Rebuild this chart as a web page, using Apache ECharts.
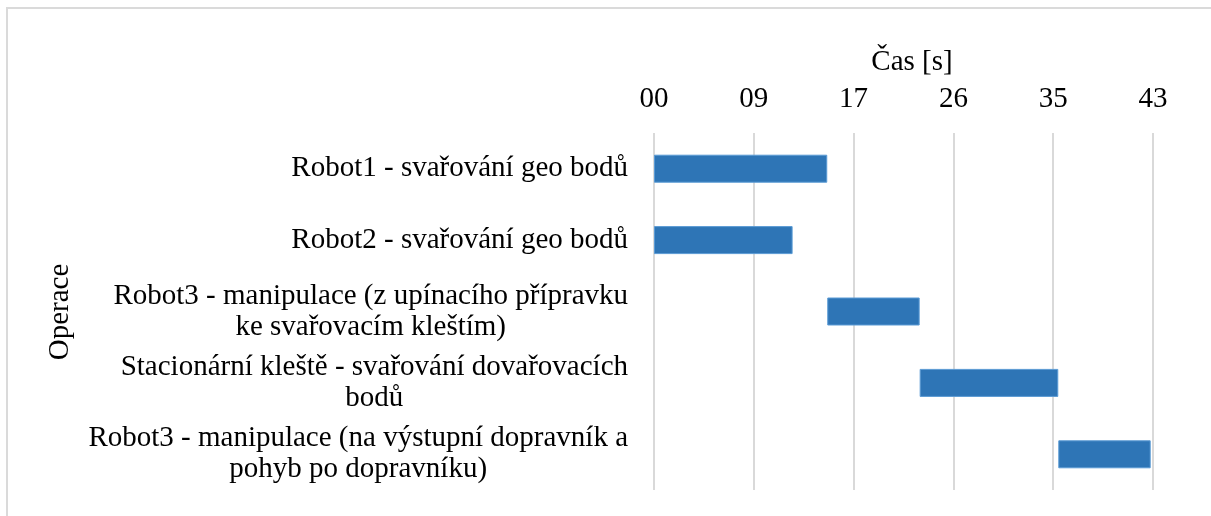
<!DOCTYPE html>
<html>
<head>
<meta charset="utf-8">
<script src="https://cdn.jsdelivr.net/npm/echarts@6/dist/echarts.min.js"></script>
<style>
  html, body { margin: 0; padding: 0; background: #fff; overflow: hidden; width: 1211px; height: 516px; }
  #frame {
    position: absolute; left: 6px; top: 7px; width: 1205px; height: 509px;
    border-top: 2px solid #dadada; border-left: 2px solid #dadada; box-sizing: border-box;
  }
  #chart { position: absolute; left: 0; top: 0; width: 1211px; height: 516px; }
</style>
</head>
<body>
<div id="frame"></div>
<div id="chart"></div>
<script>
// Operations (top to bottom), wrapped like the original labels
const operations = [
  'Robot1 - svařování geo bodů',
  'Robot2 - svařování geo bodů',
  'Robot3 - manipulace (z upínacího přípravku\nke svařovacím kleštím)',
  'Stacionární kleště - svařování dovařovacích\nbodů',
  'Robot3 - manipulace (na výstupní dopravník a\npohyb po dopravníku)'
]
// start time and duration in seconds
const startTimes = [0, 0, 15, 23, 35]
const durations = [15, 12, 8, 12, 8]
// axis runs in steps of 0.0001 day = 8.64 s
const tickStep = 8.64
const tickLabels = ['00', '09', '17', '26', '35', '43']

const fontFamily = '"Liberation Serif", "DejaVu Serif", serif'
const fontSize = 29

const chart = echarts.init(document.getElementById('chart'))

const option = {
  animation: false,
  textStyle: { fontFamily: fontFamily },
  grid: { left: 654, right: 58, top: 133, bottom: 26 },
  graphic: [
    {
      // x axis title
      type: 'text',
      x: 912,
      y: 62,
      style: {
        text: 'Čas [s]',
        font: fontSize + 'px ' + fontFamily,
        fill: '#000',
        align: 'center',
        verticalAlign: 'middle'
      }
    },
    {
      // y axis title
      type: 'text',
      x: 60,
      y: 312,
      rotation: Math.PI / 2,
      style: {
        text: 'Operace',
        font: fontSize + 'px ' + fontFamily,
        fill: '#000',
        align: 'center',
        verticalAlign: 'middle'
      }
    }
  ],
  xAxis: {
    type: 'value',
    position: 'top',
    min: 0,
    max: tickStep * (tickLabels.length - 1),
    interval: tickStep,
    axisLine: { show: false },
    axisTick: { show: false },
    axisLabel: {
      fontSize: fontSize,
      color: '#000',
      margin: 19,
      fontFamily: fontFamily,
      formatter: (v) => tickLabels[Math.round(v / tickStep)]
    },
    splitLine: { lineStyle: { color: '#d9d9d9', width: 2 } }
  },
  yAxis: {
    type: 'category',
    inverse: true,
    data: operations,
    axisLine: { show: false },
    axisTick: { show: false },
    axisLabel: {
      margin: 26,
      fontSize: fontSize,
      lineHeight: 31,
      color: '#000',
      fontFamily: fontFamily,
      formatter: (v) => v.split('\n').map((l) => '{c|' + l + '}').join('\n'),
      rich: {
        c: { align: 'center', fontSize: fontSize, lineHeight: 31, color: '#000', fontFamily: fontFamily }
      }
    }
  },
  series: [
    {
      name: 'start',
      type: 'bar',
      stack: 'gantt',
      data: startTimes,
      itemStyle: { color: 'transparent' },
      emphasis: { disabled: true },
      barWidth: 28
    },
    {
      name: 'duration',
      type: 'bar',
      stack: 'gantt',
      data: durations,
      barWidth: 28,
      itemStyle: { color: '#2e75b6', borderColor: '#5b9bd5', borderWidth: 1 }
    }
  ]
}

chart.setOption(option)
</script>
</body>
</html>
